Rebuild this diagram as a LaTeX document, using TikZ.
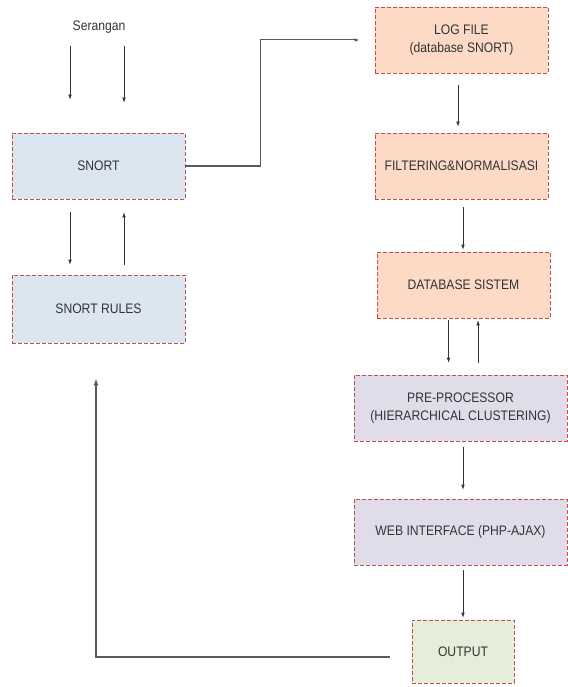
\documentclass[tikz,border=0pt]{standalone}
\usepackage{fontspec}
\setmainfont{Liberation Sans}[FakeStretch=0.88]
\usetikzlibrary{arrows.meta,positioning}
\definecolor{boxred}{HTML}{C0504D}
\definecolor{fillblue}{HTML}{DCE6F1}
\definecolor{fillorange}{HTML}{FCDAC6}
\definecolor{fillpurple}{HTML}{E1DCEA}
\definecolor{fillgreen}{HTML}{E4EED8}
\definecolor{linegray}{HTML}{5A5A5A}
\definecolor{textgray}{HTML}{333333}

\begin{document}
\begin{tikzpicture}[x=1pt,y=-1pt,
    font=\fontsize{13.8}{18.5}\selectfont,text=textgray,
    blok/.style={draw=boxred,dash pattern=on 4pt off 2pt,line width=0.6pt,
      minimum width=173pt,minimum height=66pt,inner sep=2pt,align=center},
    arr/.style={-{Latex[length=5pt,width=3.5pt]},draw=black!80,line width=0.6pt},
    thickline/.style={draw=linegray,line width=1.5pt}] 
   \useasboundingbox (0,0) rectangle (567,687);
   \node[inner sep=0pt] (serangan) at (99,27) {Serangan};
   \node[blok,fill=fillblue] (snort) at (98.5,166) {SNORT};
   \node[blok,fill=fillblue,minimum height=68pt] (rules) at (98.5,309) {SNORT RULES};
   \node[blok,fill=fillorange] (log) at (461.5,40) {LOG FILE\\(database SNORT)};
   \node[blok,fill=fillorange] (filter) at (461.5,166) {FILTERING\&NORMALISASI};
   \node[blok,fill=fillorange] (dbsys) at (463.5,285) {DATABASE SISTEM};
   \node[blok,fill=fillpurple,minimum width=213pt] (prep) at (460.5,408) {PRE-PROCESSOR\\(HIERARCHICAL CLUSTERING)};
   \node[blok,fill=fillpurple,minimum width=213pt] (web) at (460.5,532) {WEB INTERFACE (PHP-AJAX)};
   \node[blok,fill=fillgreen,minimum width=102pt,minimum height=63pt] (out) at (463,651.5) {OUTPUT};
   \coordinate (fb) at (96,657);
   \coordinate (fbtop) at ([xshift=-2.5pt,yshift=-35pt]rules.south);
    % serangan -> snort
    \draw[arr] ([xshift=-29pt,yshift=-13pt]serangan.south) -- ([xshift=-28.5pt,yshift=33pt]snort.north);
    \draw[arr] ([xshift=25pt,yshift=-13pt]serangan.south) -- ([xshift=25.5pt,yshift=30pt]snort.north);
    % snort <-> rules
    \draw[arr] ([xshift=-28.5pt,yshift=-13pt]snort.south) -- ([xshift=-28.5pt,yshift=10pt]rules.north);
    \draw[arr] ([xshift=25.5pt,yshift=10pt]rules.north) -- ([xshift=25.5pt,yshift=-13pt]snort.south);
    % snort -> log file
    \draw[thickline] (snort.east) -- ++(75,0) coordinate (bend) -- (bend |- log.west);
    \draw[arr,line width=1pt,draw=linegray] (bend |- log.west) -- ([xshift=-15pt]log.west);
    % right column
    \draw[arr] ([xshift=-3.5pt,yshift=-12pt]log.south) -- ([xshift=-3.5pt,yshift=6pt]filter.north);
    \draw[arr] ([xshift=1.5pt,yshift=-8pt]filter.south) -- ([xshift=-0.5pt,yshift=2pt]dbsys.north);
    \draw[arr] ([xshift=-15pt,yshift=-2pt]dbsys.south) -- ([xshift=-12pt,yshift=12pt]prep.north);
    \draw[arr] ([xshift=17.5pt,yshift=12pt]prep.north) -- ([xshift=14.5pt,yshift=-2pt]dbsys.south);
    \draw[arr] ([xshift=2.5pt,yshift=-6pt]prep.south) -- ([xshift=2.5pt,yshift=9pt]web.north);
    \draw[arr] ([xshift=2.5pt,yshift=-5pt]web.south) -- ([yshift=2pt]out.north);
    % feedback
    \draw[thickline,-{Latex[length=7pt,width=5pt]}] ([xshift=-22pt,yshift=-5.5pt]out.west) -- (fb) -- (fbtop);
  \end{tikzpicture}
\end{document}
